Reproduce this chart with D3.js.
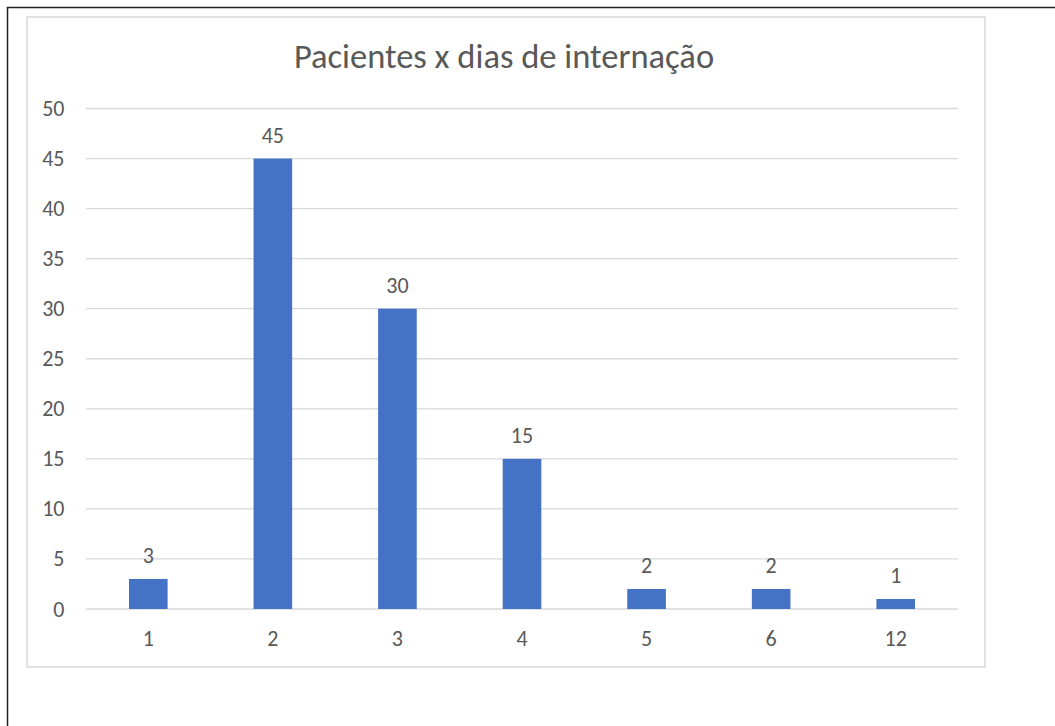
<!DOCTYPE html>
<html>
<head>
<meta charset="utf-8">
<script src="https://cdn.jsdelivr.net/npm/d3@7"></script>
<style>
  body { margin: 0; background: #fff; }
  text { font-family: Carlito, Lato, "Open Sans", sans-serif; fill: #595959; }
</style>
</head>
<body>
<div id="chart"></div>
<script>
// data
var days = ["1", "2", "3", "4", "5", "6", "12"];
var patients = [3, 45, 30, 15, 2, 2, 1];
var yTicks = [0, 5, 10, 15, 20, 25, 30, 35, 40, 45, 50];
var chartTitle = "Pacientes x dias de internação";

var svgWidth = 1055;
var svgHeight = 726;

var margin = { top: 108.5, right: 97, bottom: 117, left: 86 };
var width = svgWidth - margin.left - margin.right;
var height = svgHeight - margin.top - margin.bottom;

var svg = d3.select("#chart")
    .append("svg")
    .attr("width", svgWidth)
    .attr("height", svgHeight);

// outer black frame (only top and left show)
svg.append("rect")
    .attr("x", 7.5).attr("y", 7.5)
    .attr("width", 1100).attr("height", 800)
    .attr("fill", "none")
    .attr("stroke", "#222")
    .attr("stroke-width", 1.5);

// chart area border
svg.append("rect")
    .attr("x", 27).attr("y", 17)
    .attr("width", 958).attr("height", 650)
    .attr("fill", "#fff")
    .attr("stroke", "#d9d9d9")
    .attr("stroke-width", 1.5);

var chartGroup = svg.append("g")
    .attr("transform", `translate(${margin.left}, ${margin.top})`);

var xScale = d3.scaleBand()
    .domain(days)
    .range([0, width])
    .paddingInner(0.69)
    .paddingOuter(0.345);

var yScale = d3.scaleLinear()
    .domain([0, 50])
    .range([height, 0]);

// gridlines
chartGroup.append("g")
    .selectAll("line")
    .data(yTicks)
    .enter()
    .append("line")
    .attr("x1", 0)
    .attr("x2", width)
    .attr("y1", d => yScale(d))
    .attr("y2", d => yScale(d))
    .attr("stroke", "#d9d9d9")
    .attr("stroke-width", 1.3);

// y axis labels
var yAxis = d3.axisLeft(yScale).tickValues(yTicks).tickSize(0).tickPadding(21.5);
chartGroup.append("g")
    .call(yAxis)
    .call(g => g.select(".domain").remove())
    .selectAll("text")
    .style("font-size", "22px")
    .attr("fill", "#595959");

// x axis labels
var xAxis = d3.axisBottom(xScale).tickSize(0).tickPadding(21.5);
chartGroup.append("g")
    .attr("transform", `translate(0, ${height})`)
    .call(xAxis)
    .call(g => g.select(".domain").remove())
    .selectAll("text")
    .style("font-size", "22px")
    .attr("fill", "#595959");

// bars
chartGroup.selectAll(".bar")
    .data(patients)
    .enter()
    .append("rect")
    .attr("class", "bar")
    .attr("x", (d, i) => xScale(days[i]))
    .attr("y", d => yScale(d))
    .attr("width", xScale.bandwidth())
    .attr("height", d => height - yScale(d))
    .attr("fill", "#4472C4");

// value labels
chartGroup.selectAll(".valueText")
    .data(patients)
    .enter()
    .append("text")
    .attr("class", "valueText")
    .attr("x", (d, i) => xScale(days[i]) + xScale.bandwidth() / 2)
    .attr("y", d => yScale(d) - 16)
    .attr("text-anchor", "middle")
    .style("font-size", "22px")
    .text(d => d);

// title
svg.append("text")
    .attr("x", 504)
    .attr("y", 68)
    .attr("text-anchor", "middle")
    .style("font-size", "34.5px")
    .text(chartTitle);
</script>
</body>
</html>
